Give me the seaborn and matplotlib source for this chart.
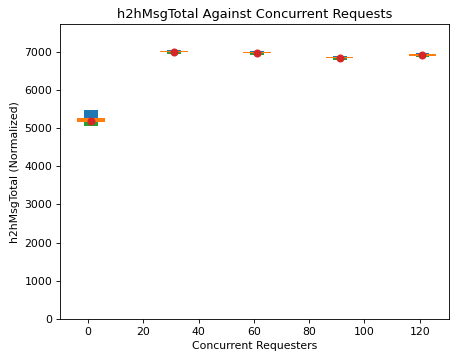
import matplotlib
matplotlib.use("Agg")
import matplotlib.pyplot as plt
import seaborn as sns
import pandas as pd

requesters = [1, 31, 61, 91, 121]
range_low = [5053, 6931, 6921, 6782, 6853]
range_high = [5473, 7044, 7010, 6887, 6973]
lower_high = [5200, 6990, 6966, 6838, 6905]
band_low = [5158, 6984, 6960, 6834, 6894]
band_high = [5271, 7010, 6980, 6852, 6947]
means = [5185, 6991, 6965, 6834, 6905]

df = pd.DataFrame({"x": requesters, "mean": means})

DPI = 78
fig = plt.figure(figsize=(451 / DPI, 356 / DPI), dpi=DPI)
ax = fig.add_axes([0.133, 0.104, 0.8626, 0.828])

ax.bar(requesters, [h - l for h, l in zip(range_high, range_low)], bottom=range_low,
       width=5, color="C0")
ax.bar(requesters, [h - l for h, l in zip(lower_high, range_low)], bottom=range_low,
       width=5, color="C2")
ax.bar(requesters, [h - l for h, l in zip(band_high, band_low)], bottom=band_low,
       width=10, color="C1")
sns.scatterplot(data=df, x="x", y="mean", color="C3", s=55, linewidth=0, ax=ax, zorder=3)

ax.set_xlim(-10.2, 130.6)
ax.set_ylim(0, 7717)
ax.set_xticks([0, 20, 40, 60, 80, 100, 120])
ax.set_yticks([0, 1000, 2000, 3000, 4000, 5000, 6000, 7000])
ax.set_title("h2hMsgTotal Against Concurrent Requests")
ax.set_xlabel("Concurrent Requesters")
ax.set_ylabel("h2hMsgTotal (Normalized)")

fig.savefig("out.png", dpi=DPI)
